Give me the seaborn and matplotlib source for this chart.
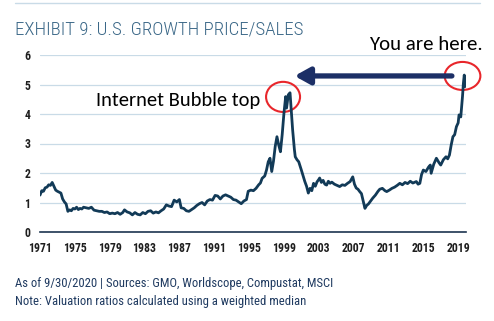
import matplotlib
matplotlib.use("Agg")
import matplotlib.pyplot as plt
from matplotlib.patches import Ellipse, FancyArrowPatch
import seaborn as sns
import pandas as pd

# Growth price/sales ratio (fractional year, value)
years = [
    1971.0, 1971.2, 1971.4, 1971.6, 1971.8, 1972.0, 1972.2, 1972.4, 1972.6, 1972.8,
    1973.0, 1973.2, 1973.4, 1973.6, 1973.8, 1974.0, 1974.2, 1974.4, 1974.6, 1974.8,
    1975.0, 1975.2, 1975.4, 1975.6, 1975.8, 1976.0, 1976.3, 1976.6, 1976.9, 1977.2,
    1977.5, 1977.8, 1978.1, 1978.4, 1978.7, 1979.0, 1979.3, 1979.6, 1979.9, 1980.2,
    1980.5, 1980.7, 1981.0, 1981.3, 1981.6, 1981.9, 1982.2, 1982.5, 1982.8, 1983.1,
    1983.4, 1983.7, 1984.0, 1984.3, 1984.6, 1984.9, 1985.2, 1985.5, 1985.8, 1986.1,
    1986.4, 1986.7, 1987.0, 1987.2, 1987.5, 1987.8, 1988.1, 1988.4, 1988.7, 1989.0,
    1989.3, 1989.6, 1989.9, 1990.2, 1990.5, 1990.8, 1991.1, 1991.4, 1991.7, 1992.0,
    1992.3, 1992.6, 1992.9, 1993.2, 1993.5, 1993.8, 1994.1, 1994.4, 1994.7, 1994.9,
    1995.2, 1995.5, 1995.8, 1996.1, 1996.3, 1996.5, 1996.8, 1997.0, 1997.2, 1997.4,
    1997.6, 1997.8, 1998.0, 1998.2, 1998.4, 1998.6, 1998.8, 1999.0, 1999.2, 1999.3,
    1999.5, 1999.7, 1999.8, 2000.0, 2000.2, 2000.3, 2000.5, 2000.7, 2000.9, 2001.0,
    2001.2, 2001.4, 2001.6, 2001.8, 2002.0, 2002.2, 2002.4, 2002.6, 2002.8, 2003.0,
    2003.1, 2003.3, 2003.5, 2003.7, 2003.9, 2004.1, 2004.3, 2004.5, 2004.8, 2005.1,
    2005.4, 2005.7, 2006.0, 2006.3, 2006.6, 2006.9, 2007.1, 2007.3, 2007.5, 2007.7,
    2007.9, 2008.1, 2008.3, 2008.5, 2008.7, 2008.9, 2009.2, 2009.5, 2009.8, 2010.0,
    2010.3, 2010.6, 2010.8, 2011.1, 2011.4, 2011.7, 2012.0, 2012.3, 2012.6, 2012.9,
    2013.2, 2013.5, 2013.8, 2014.2, 2014.4, 2014.6, 2014.8, 2015.0, 2015.3, 2015.6,
    2015.8, 2015.9, 2016.2, 2016.5, 2016.8, 2017.0, 2017.3, 2017.6, 2017.8, 2018.0,
    2018.2, 2018.4, 2018.6, 2018.8, 2019.0, 2019.1, 2019.3, 2019.4, 2019.5, 2019.6,
    2019.7, 2019.8,
]
price_sales = [
    1.25, 1.40, 1.38, 1.50, 1.52, 1.60, 1.58, 1.68, 1.55, 1.42,
    1.38, 1.35, 1.32, 1.12, 1.02, 0.95, 0.70, 0.75, 0.72, 0.80,
    0.78, 0.84, 0.76, 0.80, 0.78, 0.84, 0.82, 0.80, 0.84, 0.74,
    0.72, 0.70, 0.70, 0.66, 0.68, 0.62, 0.64, 0.62, 0.66, 0.60,
    0.66, 0.75, 0.68, 0.65, 0.58, 0.66, 0.60, 0.58, 0.66, 0.62,
    0.70, 0.72, 0.64, 0.68, 0.65, 0.72, 0.78, 0.92, 0.88, 0.86,
    1.08, 1.02, 1.10, 0.82, 0.80, 0.72, 0.70, 0.76, 0.82, 0.90,
    0.96, 1.00, 0.92, 1.05, 1.10, 1.08, 1.24, 1.22, 1.12, 1.22,
    1.26, 1.22, 1.18, 1.10, 1.08, 1.02, 0.96, 1.05, 1.10, 1.38,
    1.42, 1.40, 1.48, 1.60, 1.66, 1.82, 1.90, 2.10, 2.38, 2.50,
    2.05, 2.40, 2.90, 3.23, 2.95, 2.72, 3.30, 4.02, 4.59, 4.20,
    4.65, 4.72, 4.30, 3.46, 2.80, 2.55, 2.45, 2.38, 2.20, 2.10,
    1.90, 1.71, 1.55, 1.32, 1.48, 1.40, 1.65, 1.55, 1.70, 1.78,
    1.83, 1.68, 1.75, 1.62, 1.59, 1.72, 1.65, 1.69, 1.62, 1.58,
    1.54, 1.60, 1.58, 1.65, 1.71, 1.87, 1.62, 1.49, 1.45, 1.37,
    1.30, 1.05, 0.80, 0.90, 0.95, 1.03, 1.15, 1.25, 1.38, 1.45,
    1.48, 1.40, 1.37, 1.42, 1.48, 1.52, 1.58, 1.65, 1.60, 1.68,
    1.64, 1.72, 1.66, 1.71, 1.62, 1.65, 1.95, 2.10, 2.05, 2.20,
    2.27, 1.99, 2.30, 2.50, 2.35, 2.27, 2.45, 2.55, 2.48, 2.61,
    2.95, 3.23, 3.30, 3.57, 3.70, 3.97, 3.90, 4.25, 4.60, 5.04,
    5.32, 4.93,
]
x_ticks = list(range(1971, 2020, 4))
y_ticks = [0, 1, 2, 3, 4, 5, 6]

title = "EXHIBIT 9: U.S. GROWTH PRICE/SALES"
source_note = "As of 9/30/2020 | Sources: GMO, Worldscope, Compustat, MSCI"
method_note = "Note: Valuation ratios calculated using a weighted median"
bubble_label = "Internet Bubble top"
here_label = "You are here."

sns.set_theme(style="white")
plt.rcParams["font.family"] = ["Roboto Condensed", "DejaVu Sans"]
CALLOUT_FONT = ["Carlito", "DejaVu Sans"]

LINE = "#123a57"
NAVY = "#1c2f66"
GRID = "#c9dbe7"

df = pd.DataFrame({"year": years, "ps": price_sales})

fig = plt.figure(figsize=(4.94, 3.21), dpi=100)
ax = fig.add_axes([40 / 494, 1 - 232 / 321, 426 / 494, 177 / 321])

sns.lineplot(data=df, x="year", y="ps", ax=ax, color=LINE, linewidth=2.0)

ax.set_xlim(1971, 2019.9)
ax.set_ylim(0, 6)
ax.set_xticks(x_ticks)
ax.set_yticks(y_ticks)
ax.set_xticklabels([str(t) for t in x_ticks], fontsize=8.5, fontweight="bold", color="#1e1e1e")
ax.set_yticklabels([str(t) for t in y_ticks], fontsize=8.5, fontweight="bold", color="#1e1e1e")
ax.tick_params(axis="x", length=0, pad=7)
ax.tick_params(axis="y", length=0, pad=7)
ax.set_xlabel("")
ax.set_ylabel("")
ax.yaxis.grid(True, color=GRID, linewidth=0.9)
ax.set_axisbelow(True)
for side in ("top", "right", "left"):
    ax.spines[side].set_visible(False)
ax.spines["bottom"].set_color("#1d3550")
ax.spines["bottom"].set_linewidth(1.2)

# top rule
fig.add_artist(plt.Line2D([15 / 494, 480 / 494], [1 - 3 / 321] * 2, color=GRID, linewidth=1.0))

fig.text(15 / 494, 1 - 30 / 321, title, fontsize=13.6, fontweight="light", color="#3a6787", va="center", ha="left")
fig.text(15 / 494, 1 - 284 / 321, source_note, fontsize=9.1, color="#1f3a60", va="center", ha="left")
fig.text(15 / 494, 1 - 302 / 321, method_note, fontsize=9.1, color="#1f3a60", va="center", ha="left")

# callouts
ax.add_patch(Ellipse((1998.9, 4.58), 3.9, 1.02, fill=False, edgecolor="#e8262b", linewidth=1.5, clip_on=False))
ax.add_patch(Ellipse((2019.5, 5.29), 4.1, 0.95, fill=False, edgecolor="#e8262b", linewidth=1.5, clip_on=False))
ax.add_patch(FancyArrowPatch((2018.6, 5.29), (1999.9, 5.29), arrowstyle="-|>,head_length=9,head_width=5",
                             mutation_scale=1, color=NAVY, linewidth=3.8, clip_on=False))
ax.text(1977.4, 4.47, bubble_label, fontsize=14.8, color="black", ha="left", va="center", family=CALLOUT_FONT)
ax.text(2021.85, 6.34, here_label, fontsize=15, color="black", ha="right", va="center", family=CALLOUT_FONT)

fig.savefig("out.png", dpi=100)
